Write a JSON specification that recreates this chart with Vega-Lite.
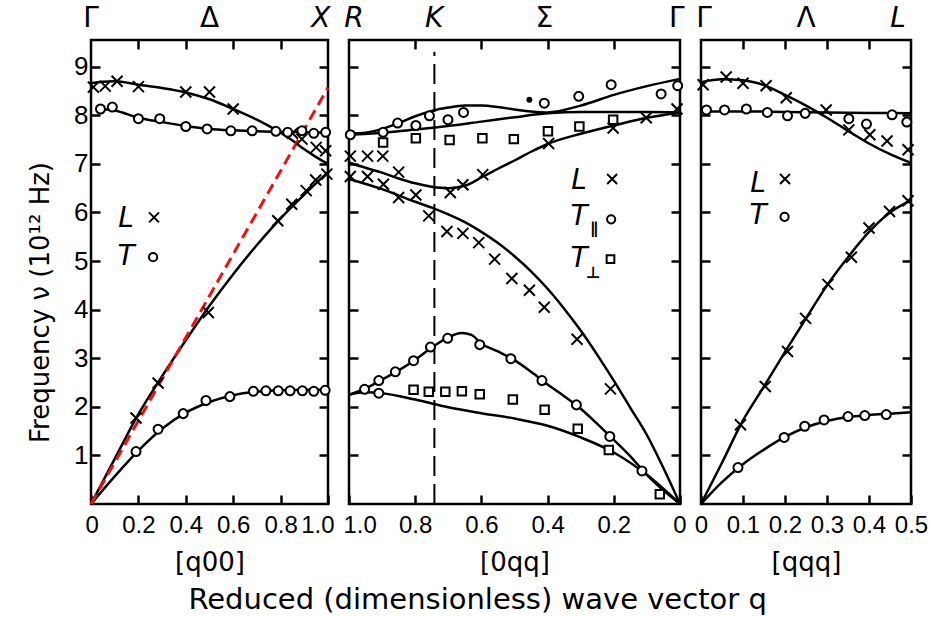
{
"$schema": "https://vega.github.io/schema/vega-lite/v6.json",
"background": "white",
"padding": {"left": 26, "top": 3, "right": 5, "bottom": 5},
"datasets": {
"p1l": [
{"c":"Lopt","q":0,"f":8.66},{"c":"Lopt","q":0.05,"f":8.69},{"c":"Lopt","q":0.1,"f":8.7},{"c":"Lopt","q":0.2,"f":8.63},{"c":"Lopt","q":0.3,"f":8.56},{"c":"Lopt","q":0.4,"f":8.47},{"c":"Lopt","q":0.5,"f":8.33},{"c":"Lopt","q":0.6,"f":8.13},{"c":"Lopt","q":0.7,"f":7.91},{"c":"Lopt","q":0.8,"f":7.64},{"c":"Lopt","q":0.85,"f":7.48},{"c":"Lopt","q":0.9,"f":7.3},{"c":"Lopt","q":0.95,"f":7.14},{"c":"Lopt","q":1.0,"f":7.0},
{"c":"Topt","q":0.04,"f":8.13},{"c":"Topt","q":0.1,"f":8.1},{"c":"Topt","q":0.2,"f":7.95},{"c":"Topt","q":0.3,"f":7.86},{"c":"Topt","q":0.4,"f":7.78},{"c":"Topt","q":0.5,"f":7.72},{"c":"Topt","q":0.6,"f":7.69},{"c":"Topt","q":0.7,"f":7.67},{"c":"Topt","q":0.8,"f":7.66},{"c":"Topt","q":0.9,"f":7.65},{"c":"Topt","q":1.0,"f":7.64},
{"c":"Lac","q":0,"f":0},{"c":"Lac","q":0.1,"f":0.93},{"c":"Lac","q":0.2,"f":1.85},{"c":"Lac","q":0.3,"f":2.63},{"c":"Lac","q":0.4,"f":3.37},{"c":"Lac","q":0.5,"f":4.08},{"c":"Lac","q":0.6,"f":4.73},{"c":"Lac","q":0.7,"f":5.33},{"c":"Lac","q":0.8,"f":5.88},{"c":"Lac","q":0.9,"f":6.37},{"c":"Lac","q":1.0,"f":6.83},
{"c":"Tac","q":0,"f":0},{"c":"Tac","q":0.1,"f":0.57},{"c":"Tac","q":0.2,"f":1.1},{"c":"Tac","q":0.3,"f":1.55},{"c":"Tac","q":0.4,"f":1.88},{"c":"Tac","q":0.5,"f":2.1},{"c":"Tac","q":0.6,"f":2.24},{"c":"Tac","q":0.7,"f":2.31},{"c":"Tac","q":0.8,"f":2.34},{"c":"Tac","q":0.9,"f":2.35},{"c":"Tac","q":1.0,"f":2.35}
],
"p1p": [
{"s":"L","q":0.01,"f":8.58},{"s":"L","q":0.06,"f":8.6},{"s":"L","q":0.11,"f":8.7},{"s":"L","q":0.2,"f":8.59},{"s":"L","q":0.4,"f":8.48},{"s":"L","q":0.5,"f":8.48},{"s":"L","q":0.6,"f":8.13},{"s":"L","q":0.85,"f":7.63},{"s":"L","q":0.89,"f":7.51},{"s":"L","q":0.95,"f":7.34},{"s":"L","q":0.99,"f":7.27},
{"s":"L","q":0.995,"f":6.79},{"s":"L","q":0.948,"f":6.67},{"s":"L","q":0.908,"f":6.45},{"s":"L","q":0.847,"f":6.17},{"s":"L","q":0.788,"f":5.83},{"s":"L","q":0.495,"f":3.94},{"s":"L","q":0.283,"f":2.49},{"s":"L","q":0.19,"f":1.77},
{"s":"T","q":0.04,"f":8.13},{"s":"T","q":0.09,"f":8.17},{"s":"T","q":0.2,"f":7.93},{"s":"T","q":0.29,"f":7.93},{"s":"T","q":0.4,"f":7.77},{"s":"T","q":0.49,"f":7.72},{"s":"T","q":0.59,"f":7.68},{"s":"T","q":0.68,"f":7.68},{"s":"T","q":0.78,"f":7.67},{"s":"T","q":0.83,"f":7.65},{"s":"T","q":0.89,"f":7.68},{"s":"T","q":0.94,"f":7.63},{"s":"T","q":0.99,"f":7.65},
{"s":"T","q":0.19,"f":1.08},{"s":"T","q":0.283,"f":1.54},{"s":"T","q":0.389,"f":1.86},{"s":"T","q":0.485,"f":2.13},{"s":"T","q":0.586,"f":2.21},{"s":"T","q":0.685,"f":2.32},{"s":"T","q":0.738,"f":2.33},{"s":"T","q":0.79,"f":2.33},{"s":"T","q":0.84,"f":2.33},{"s":"T","q":0.892,"f":2.33},{"s":"T","q":0.94,"f":2.32},{"s":"T","q":0.988,"f":2.34}
],
"p1red": [{"q":0,"f":0},{"q":1.0,"f":8.57}],
"p1greek": [{"q":0,"f":9.98,"t":"Γ"},{"q":0.5,"f":9.98,"t":"Δ"}],
"p1latin": [{"q":0.97,"f":9.98,"t":"X"}],
"p1legt": [{"q":0.148,"f":5.86,"t":"L"},{"q":0.148,"f":5.08,"t":"T"}],
"p1legm": [{"s":"L","q":0.266,"f":5.9},{"s":"T","q":0.262,"f":5.08}],
"p2l": [
{"c":"A","q":1.0,"f":7.62},{"c":"A","q":0.95,"f":7.64},{"c":"A","q":0.9,"f":7.72},{"c":"A","q":0.85,"f":7.84},{"c":"A","q":0.8,"f":7.98},{"c":"A","q":0.75,"f":8.09},{"c":"A","q":0.7,"f":8.16},{"c":"A","q":0.65,"f":8.2},{"c":"A","q":0.6,"f":8.2},{"c":"A","q":0.55,"f":8.17},{"c":"A","q":0.5,"f":8.12},{"c":"A","q":0.45,"f":8.08},{"c":"A","q":0.4,"f":8.06},{"c":"A","q":0.3,"f":8.2},{"c":"A","q":0.2,"f":8.42},{"c":"A","q":0.1,"f":8.6},{"c":"A","q":0,"f":8.75},
{"c":"B","q":1.0,"f":7.6},{"c":"B","q":0.9,"f":7.64},{"c":"B","q":0.8,"f":7.71},{"c":"B","q":0.74,"f":7.75},{"c":"B","q":0.6,"f":7.87},{"c":"B","q":0.5,"f":7.96},{"c":"B","q":0.4,"f":8.04},{"c":"B","q":0.3,"f":8.07},{"c":"B","q":0.2,"f":8.07},{"c":"B","q":0.1,"f":8.07},{"c":"B","q":0,"f":8.06},
{"c":"C","q":1.0,"f":7.03},{"c":"C","q":0.95,"f":6.92},{"c":"C","q":0.9,"f":6.82},{"c":"C","q":0.85,"f":6.7},{"c":"C","q":0.8,"f":6.6},{"c":"C","q":0.75,"f":6.53},{"c":"C","q":0.7,"f":6.5},{"c":"C","q":0.65,"f":6.55},{"c":"C","q":0.6,"f":6.72},{"c":"C","q":0.55,"f":6.9},{"c":"C","q":0.5,"f":7.07},{"c":"C","q":0.45,"f":7.25},{"c":"C","q":0.4,"f":7.41},{"c":"C","q":0.3,"f":7.62},{"c":"C","q":0.2,"f":7.79},{"c":"C","q":0.1,"f":7.95},{"c":"C","q":0,"f":8.06},
{"c":"D","q":1.0,"f":6.69},{"c":"D","q":0.9,"f":6.48},{"c":"D","q":0.8,"f":6.22},{"c":"D","q":0.75,"f":6.1},{"c":"D","q":0.7,"f":5.96},{"c":"D","q":0.65,"f":5.8},{"c":"D","q":0.6,"f":5.6},{"c":"D","q":0.55,"f":5.37},{"c":"D","q":0.5,"f":5.1},{"c":"D","q":0.45,"f":4.79},{"c":"D","q":0.4,"f":4.43},{"c":"D","q":0.35,"f":4.02},{"c":"D","q":0.3,"f":3.57},{"c":"D","q":0.25,"f":3.07},{"c":"D","q":0.2,"f":2.54},{"c":"D","q":0.15,"f":1.98},{"c":"D","q":0.1,"f":1.42},{"c":"D","q":0.05,"f":0.74},{"c":"D","q":0,"f":0},
{"c":"E","q":1.0,"f":2.25},{"c":"E","q":0.95,"f":2.38},{"c":"E","q":0.9,"f":2.56},{"c":"E","q":0.85,"f":2.75},{"c":"E","q":0.8,"f":2.97},{"c":"E","q":0.75,"f":3.22},{"c":"E","q":0.7,"f":3.43},{"c":"E","q":0.66,"f":3.52},{"c":"E","q":0.63,"f":3.48},{"c":"E","q":0.6,"f":3.3},{"c":"E","q":0.55,"f":3.14},{"c":"E","q":0.5,"f":2.96},{"c":"E","q":0.45,"f":2.72},{"c":"E","q":0.4,"f":2.46},{"c":"E","q":0.35,"f":2.22},{"c":"E","q":0.3,"f":1.96},{"c":"E","q":0.25,"f":1.65},{"c":"E","q":0.2,"f":1.32},{"c":"E","q":0.15,"f":0.98},{"c":"E","q":0.1,"f":0.6},{"c":"E","q":0.05,"f":0.28},{"c":"E","q":0,"f":0},
{"c":"F","q":1.0,"f":2.25},{"c":"F","q":0.95,"f":2.3},{"c":"F","q":0.9,"f":2.28},{"c":"F","q":0.8,"f":2.15},{"c":"F","q":0.7,"f":1.99},{"c":"F","q":0.6,"f":1.87},{"c":"F","q":0.5,"f":1.76},{"c":"F","q":0.4,"f":1.61},{"c":"F","q":0.3,"f":1.37},{"c":"F","q":0.2,"f":1.06},{"c":"F","q":0.1,"f":0.6},{"c":"F","q":0,"f":0}
],
"p2p": [
{"s":"L","q":0.996,"f":7.16},{"s":"L","q":0.944,"f":7.16},{"s":"L","q":0.898,"f":7.16},{"s":"L","q":0.996,"f":6.74},{"s":"L","q":0.944,"f":6.74},{"s":"L","q":0.896,"f":6.58},{"s":"L","q":0.85,"f":6.83},{"s":"L","q":0.85,"f":6.31},{"s":"L","q":0.798,"f":6.36},{"s":"L","q":0.759,"f":5.93},{"s":"L","q":0.694,"f":6.41},{"s":"L","q":0.656,"f":6.57},{"s":"L","q":0.596,"f":6.78},{"s":"L","q":0.397,"f":7.42},{"s":"L","q":0.202,"f":7.74},{"s":"L","q":0.102,"f":7.95},{"s":"L","q":0.009,"f":8.13},
{"s":"L","q":0.704,"f":5.61},{"s":"L","q":0.656,"f":5.57},{"s":"L","q":0.608,"f":5.38},{"s":"L","q":0.56,"f":5.04},{"s":"L","q":0.508,"f":4.64},{"s":"L","q":0.455,"f":4.4},{"s":"L","q":0.41,"f":4.05},{"s":"L","q":0.311,"f":3.39},{"s":"L","q":0.21,"f":2.37},
{"s":"T","q":0.996,"f":7.6},{"s":"T","q":0.897,"f":7.65},{"s":"T","q":0.853,"f":7.84},{"s":"T","q":0.798,"f":7.79},{"s":"T","q":0.757,"f":7.99},{"s":"T","q":0.701,"f":7.91},{"s":"T","q":0.654,"f":8.06},{"s":"T","q":0.41,"f":8.25},{"s":"T","q":0.306,"f":8.39},{"s":"T","q":0.208,"f":8.63},{"s":"T","q":0.057,"f":8.44},{"s":"T","q":0.007,"f":8.61},
{"s":"T","q":0.953,"f":2.36},{"s":"T","q":0.91,"f":2.54},{"s":"T","q":0.86,"f":2.72},{"s":"T","q":0.805,"f":2.95},{"s":"T","q":0.754,"f":3.23},{"s":"T","q":0.702,"f":3.41},{"s":"T","q":0.605,"f":3.28},{"s":"T","q":0.511,"f":2.99},{"s":"T","q":0.417,"f":2.54},{"s":"T","q":0.313,"f":2.04},{"s":"T","q":0.212,"f":1.39},{"s":"T","q":0.115,"f":0.68},{"s":"T","q":0.91,"f":2.28},
{"s":"P","q":0.897,"f":7.44},{"s":"P","q":0.798,"f":7.53},{"s":"P","q":0.696,"f":7.49},{"s":"P","q":0.597,"f":7.53},{"s":"P","q":0.502,"f":7.51},{"s":"P","q":0.399,"f":7.67},{"s":"P","q":0.304,"f":7.77},{"s":"P","q":0.202,"f":7.91},
{"s":"P","q":0.805,"f":2.35},{"s":"P","q":0.759,"f":2.31},{"s":"P","q":0.709,"f":2.31},{"s":"P","q":0.659,"f":2.32},{"s":"P","q":0.605,"f":2.26},{"s":"P","q":0.505,"f":2.15},{"s":"P","q":0.409,"f":1.94},{"s":"P","q":0.309,"f":1.55},{"s":"P","q":0.215,"f":1.11},{"s":"P","q":0.061,"f":0.2},
{"s":"D","q":0.455,"f":8.32}
],
"p2k": [{"q":0.742,"f":0,"f2":9.31}],
"p2greek": [{"q":0.41,"f":9.98,"t":"Σ"},{"q":0.01,"f":9.98,"t":"Γ"}],
"p2latin": [{"q":0.985,"f":9.98,"t":"R"},{"q":0.743,"f":9.98,"t":"K"}],
"p2legt": [{"q":0.305,"f":6.65,"t":"L"},{"q":0.305,"f":5.9,"t":"T"},{"q":0.305,"f":5.04,"t":"T"}],
"p2legsub": [{"q":0.26,"f":5.66,"t":"∥"},{"q":0.262,"f":4.76,"t":"⊥"}],
"p2legm": [{"s":"L","q":0.205,"f":6.69},{"s":"T","q":0.208,"f":5.86},{"s":"P","q":0.21,"f":5.04}],
"p3l": [
{"c":"Lup","q":0,"f":8.68},{"c":"Lup","q":0.05,"f":8.74},{"c":"Lup","q":0.1,"f":8.72},{"c":"Lup","q":0.15,"f":8.62},{"c":"Lup","q":0.2,"f":8.42},{"c":"Lup","q":0.25,"f":8.2},{"c":"Lup","q":0.3,"f":7.95},{"c":"Lup","q":0.35,"f":7.68},{"c":"Lup","q":0.4,"f":7.42},{"c":"Lup","q":0.45,"f":7.2},{"c":"Lup","q":0.5,"f":7.02},
{"c":"Tup","q":0,"f":8.08},{"c":"Tup","q":0.1,"f":8.08},{"c":"Tup","q":0.2,"f":8.07},{"c":"Tup","q":0.3,"f":8.06},{"c":"Tup","q":0.4,"f":8.05},{"c":"Tup","q":0.5,"f":8.04},
{"c":"Lac","q":0,"f":0},{"c":"Lac","q":0.05,"f":0.85},{"c":"Lac","q":0.1,"f":1.72},{"c":"Lac","q":0.15,"f":2.42},{"c":"Lac","q":0.2,"f":3.13},{"c":"Lac","q":0.25,"f":3.82},{"c":"Lac","q":0.3,"f":4.5},{"c":"Lac","q":0.35,"f":5.08},{"c":"Lac","q":0.4,"f":5.6},{"c":"Lac","q":0.45,"f":6.0},{"c":"Lac","q":0.5,"f":6.25},
{"c":"Tac","q":0,"f":0},{"c":"Tac","q":0.05,"f":0.45},{"c":"Tac","q":0.1,"f":0.82},{"c":"Tac","q":0.15,"f":1.12},{"c":"Tac","q":0.2,"f":1.38},{"c":"Tac","q":0.25,"f":1.58},{"c":"Tac","q":0.3,"f":1.71},{"c":"Tac","q":0.35,"f":1.79},{"c":"Tac","q":0.4,"f":1.83},{"c":"Tac","q":0.45,"f":1.86},{"c":"Tac","q":0.5,"f":1.89}
],
"p3p": [
{"s":"L","q":0.005,"f":8.63},{"s":"L","q":0.06,"f":8.79},{"s":"L","q":0.1,"f":8.66},{"s":"L","q":0.155,"f":8.61},{"s":"L","q":0.203,"f":8.36},{"s":"L","q":0.298,"f":8.11},{"s":"L","q":0.352,"f":7.7},{"s":"L","q":0.402,"f":7.6},{"s":"L","q":0.443,"f":7.47},{"s":"L","q":0.493,"f":7.29},
{"s":"L","q":0.094,"f":1.63},{"s":"L","q":0.153,"f":2.42},{"s":"L","q":0.206,"f":3.14},{"s":"L","q":0.249,"f":3.82},{"s":"L","q":0.302,"f":4.52},{"s":"L","q":0.358,"f":5.08},{"s":"L","q":0.4,"f":5.68},{"s":"L","q":0.449,"f":6.02},{"s":"L","q":0.493,"f":6.24},
{"s":"T","q":0.013,"f":8.11},{"s":"T","q":0.056,"f":8.11},{"s":"T","q":0.108,"f":8.13},{"s":"T","q":0.158,"f":8.06},{"s":"T","q":0.206,"f":7.99},{"s":"T","q":0.248,"f":8.04},{"s":"T","q":0.352,"f":7.93},{"s":"T","q":0.394,"f":7.82},{"s":"T","q":0.455,"f":8.01},{"s":"T","q":0.49,"f":7.86},
{"s":"T","q":0.088,"f":0.75},{"s":"T","q":0.198,"f":1.37},{"s":"T","q":0.247,"f":1.6},{"s":"T","q":0.293,"f":1.73},{"s":"T","q":0.35,"f":1.8},{"s":"T","q":0.39,"f":1.82},{"s":"T","q":0.441,"f":1.84}
],
"p3greek": [{"q":0.007,"f":9.98,"t":"Γ"},{"q":0.25,"f":9.98,"t":"Λ"}],
"p3latin": [{"q":0.469,"f":9.98,"t":"L"}],
"p3legt": [{"q":0.136,"f":6.58,"t":"L"},{"q":0.136,"f":5.93,"t":"T"}],
"p3legm": [{"s":"L","q":0.2,"f":6.69},{"s":"T","q":0.199,"f":5.91}]
},
"hconcat": [
{
"width": 237, "height": 464,
"layer": [
{"data": {"name": "p1l"}, "mark": {"type": "line", "color": "black", "strokeWidth": 2.5, "interpolate": "monotone"},
 "encoding": {
  "x": {"field": "q", "type": "quantitative", "scale": {"domain": [0, 1], "nice": false, "zero": false}, "axis": {"orient": "bottom", "values": [0, 0.2, 0.4, 0.6, 0.8, 1], "labelExpr": "datum.value === 0 ? '0' : format(datum.value, '.1f')", "title": "[q00]"}},
  "y": {"field": "f", "type": "quantitative", "scale": {"domain": [0, 9.55], "nice": false}, "axis": {"orient": "left", "values": [1,2,3,4,5,6,7,8,9], "format": "d", "labelFlush": false, "title": "Frequency ν (10¹² Hz)", "titlePadding": 20, "titleY": 262}},
  "detail": {"field": "c"}}},
{"data": {"name": "p1red"}, "mark": {"type": "line", "color": "#f01010", "strokeWidth": 3, "strokeDash": [11, 6]},
 "encoding": {"x": {"field": "q", "type": "quantitative", "axis": null}, "y": {"field": "f", "type": "quantitative", "axis": null}}},
{"data": {"name": "p1p"}, "mark": {"type": "point", "stroke": "black", "strokeWidth": 2, "opacity": 1, "size": 121},
 "encoding": {"x": {"field": "q", "type": "quantitative", "axis": null}, "y": {"field": "f", "type": "quantitative", "axis": null},
  "shape": {"field": "s", "scale": {"domain": ["L", "T", "P", "D"], "range": ["M-1,-1L1,1M-1,1L1,-1", "M0.82,0A0.82,0.82 0 1,1 -0.82,0A0.82,0.82 0 1,1 0.82,0Z", "M-0.77,-0.77H0.77V0.77H-0.77Z", "M0.36,0A0.36,0.36 0 1,1 -0.36,0A0.36,0.36 0 1,1 0.36,0Z"]}, "legend": null},
  "fill": {"field": "s", "scale": {"domain": ["L", "T", "P", "D"], "range": ["white", "white", "white", "black"]}, "legend": null}}},
{"data": {"name": "p1legt"}, "mark": {"type": "text", "font": "DejaVu Sans", "fontSize": 28, "fontStyle": "italic", "color": "black", "baseline": "middle", "align": "center"},
 "encoding": {"x": {"field": "q", "type": "quantitative", "axis": null}, "y": {"field": "f", "type": "quantitative", "axis": null}, "text": {"field": "t"}}},
{"data": {"name": "p1legm"}, "mark": {"type": "point", "stroke": "black", "strokeWidth": 2, "opacity": 1, "fill": "white", "size": 100},
 "encoding": {"x": {"field": "q", "type": "quantitative", "axis": null}, "y": {"field": "f", "type": "quantitative", "axis": null},
  "shape": {"field": "s", "scale": {"domain": ["L", "T", "P", "D"], "range": ["M-1,-1L1,1M-1,1L1,-1", "M0.82,0A0.82,0.82 0 1,1 -0.82,0A0.82,0.82 0 1,1 0.82,0Z", "M-0.77,-0.77H0.77V0.77H-0.77Z", "M0.36,0A0.36,0.36 0 1,1 -0.36,0A0.36,0.36 0 1,1 0.36,0Z"]}, "legend": null}}},
{"data": {"name": "p1latin"}, "mark": {"type": "text", "font": "DejaVu Sans", "fontSize": 28, "fontStyle": "italic", "color": "black", "baseline": "middle", "align": "center"},
 "encoding": {"x": {"field": "q", "type": "quantitative", "axis": null}, "y": {"field": "f", "type": "quantitative", "axis": null}, "text": {"field": "t"}}},
{"data": {"name": "p1greek"}, "mark": {"type": "text", "font": "DejaVu Sans", "fontSize": 28, "color": "black", "baseline": "middle", "align": "center"},
 "encoding": {"x": {"field": "q", "type": "quantitative", "axis": {"orient": "top", "values": [0.2, 0.4, 0.6, 0.8], "labels": false, "title": null}},
  "y": {"field": "f", "type": "quantitative", "axis": {"orient": "right", "values": [1,2,3,4,5,6,7,8,9], "labels": false, "title": null}}, "text": {"field": "t"}}}
],
"resolve": {"axis": {"x": "independent", "y": "independent"}}
},
{
"width": 331, "height": 464,
"layer": [
{"data": {"name": "p2k"}, "mark": {"type": "rule", "color": "black", "strokeWidth": 2, "strokeDash": [20, 8]},
 "encoding": {"x": {"field": "q", "type": "quantitative", "axis": null}, "y": {"field": "f", "type": "quantitative", "axis": null}, "y2": {"field": "f2"}}},
{"data": {"name": "p2l"}, "mark": {"type": "line", "color": "black", "strokeWidth": 2.5, "interpolate": "monotone"},
 "encoding": {
  "x": {"field": "q", "type": "quantitative", "scale": {"domain": [0, 1], "nice": false, "reverse": true}, "axis": {"orient": "bottom", "values": [0, 0.2, 0.4, 0.6, 0.8, 1], "labelExpr": "datum.value === 0 ? '0' : format(datum.value, '.1f')", "title": "[0qq]"}},
  "y": {"field": "f", "type": "quantitative", "scale": {"domain": [0, 9.55], "nice": false}, "axis": {"orient": "left", "values": [1,2,3,4,5,6,7,8,9], "labels": false, "title": null}},
  "detail": {"field": "c"}}},
{"data": {"name": "p2p"}, "mark": {"type": "point", "stroke": "black", "strokeWidth": 2, "opacity": 1, "size": 121},
 "encoding": {"x": {"field": "q", "type": "quantitative", "axis": null}, "y": {"field": "f", "type": "quantitative", "axis": null},
  "shape": {"field": "s", "scale": {"domain": ["L", "T", "P", "D"], "range": ["M-1,-1L1,1M-1,1L1,-1", "M0.82,0A0.82,0.82 0 1,1 -0.82,0A0.82,0.82 0 1,1 0.82,0Z", "M-0.77,-0.77H0.77V0.77H-0.77Z", "M0.36,0A0.36,0.36 0 1,1 -0.36,0A0.36,0.36 0 1,1 0.36,0Z"]}, "legend": null},
  "fill": {"field": "s", "scale": {"domain": ["L", "T", "P", "D"], "range": ["white", "white", "white", "black"]}, "legend": null}}},
{"data": {"name": "p2legt"}, "mark": {"type": "text", "font": "DejaVu Sans", "fontSize": 28, "fontStyle": "italic", "color": "black", "baseline": "middle", "align": "center"},
 "encoding": {"x": {"field": "q", "type": "quantitative", "axis": null}, "y": {"field": "f", "type": "quantitative", "axis": null}, "text": {"field": "t"}}},
{"data": {"name": "p2legsub"}, "mark": {"type": "text", "font": "DejaVu Sans", "fontSize": 16, "fontWeight": "bold", "color": "black", "baseline": "middle", "align": "center"},
 "encoding": {"x": {"field": "q", "type": "quantitative", "axis": null}, "y": {"field": "f", "type": "quantitative", "axis": null}, "text": {"field": "t"}}},
{"data": {"name": "p2legm"}, "mark": {"type": "point", "stroke": "black", "strokeWidth": 2, "opacity": 1, "fill": "white", "size": 100},
 "encoding": {"x": {"field": "q", "type": "quantitative", "axis": null}, "y": {"field": "f", "type": "quantitative", "axis": null},
  "shape": {"field": "s", "scale": {"domain": ["L", "T", "P", "D"], "range": ["M-1,-1L1,1M-1,1L1,-1", "M0.82,0A0.82,0.82 0 1,1 -0.82,0A0.82,0.82 0 1,1 0.82,0Z", "M-0.77,-0.77H0.77V0.77H-0.77Z", "M0.36,0A0.36,0.36 0 1,1 -0.36,0A0.36,0.36 0 1,1 0.36,0Z"]}, "legend": null}}},
{"data": {"name": "p2latin"}, "mark": {"type": "text", "font": "DejaVu Sans", "fontSize": 28, "fontStyle": "italic", "color": "black", "baseline": "middle", "align": "center"},
 "encoding": {"x": {"field": "q", "type": "quantitative", "axis": null}, "y": {"field": "f", "type": "quantitative", "axis": null}, "text": {"field": "t"}}},
{"data": {"name": "p2greek"}, "mark": {"type": "text", "font": "DejaVu Sans", "fontSize": 28, "color": "black", "baseline": "middle", "align": "center"},
 "encoding": {"x": {"field": "q", "type": "quantitative", "axis": {"orient": "top", "values": [0.2, 0.4, 0.6, 0.8], "labels": false, "title": null}},
  "y": {"field": "f", "type": "quantitative", "axis": {"orient": "right", "values": [1,2,3,4,5,6,7,8,9], "labels": false, "title": null}}, "text": {"field": "t"}}}
],
"resolve": {"axis": {"x": "independent", "y": "independent"}}
},
{
"width": 210, "height": 464,
"layer": [
{"data": {"name": "p3l"}, "mark": {"type": "line", "color": "black", "strokeWidth": 2.5, "interpolate": "monotone"},
 "encoding": {
  "x": {"field": "q", "type": "quantitative", "scale": {"domain": [0, 0.5], "nice": false}, "axis": {"orient": "bottom", "values": [0, 0.1, 0.2, 0.3, 0.4, 0.5], "labelFlush": false, "labelExpr": "datum.value === 0 ? '0' : format(datum.value, '.1f')", "title": "[qqq]"}},
  "y": {"field": "f", "type": "quantitative", "scale": {"domain": [0, 9.55], "nice": false}, "axis": {"orient": "left", "values": [1,2,3,4,5,6,7,8,9], "labels": false, "title": null}},
  "detail": {"field": "c"}}},
{"data": {"name": "p3p"}, "mark": {"type": "point", "stroke": "black", "strokeWidth": 2, "opacity": 1, "size": 121},
 "encoding": {"x": {"field": "q", "type": "quantitative", "axis": null}, "y": {"field": "f", "type": "quantitative", "axis": null},
  "shape": {"field": "s", "scale": {"domain": ["L", "T", "P", "D"], "range": ["M-1,-1L1,1M-1,1L1,-1", "M0.82,0A0.82,0.82 0 1,1 -0.82,0A0.82,0.82 0 1,1 0.82,0Z", "M-0.77,-0.77H0.77V0.77H-0.77Z", "M0.36,0A0.36,0.36 0 1,1 -0.36,0A0.36,0.36 0 1,1 0.36,0Z"]}, "legend": null},
  "fill": {"field": "s", "scale": {"domain": ["L", "T", "P", "D"], "range": ["white", "white", "white", "black"]}, "legend": null}}},
{"data": {"name": "p3legt"}, "mark": {"type": "text", "font": "DejaVu Sans", "fontSize": 28, "fontStyle": "italic", "color": "black", "baseline": "middle", "align": "center"},
 "encoding": {"x": {"field": "q", "type": "quantitative", "axis": null}, "y": {"field": "f", "type": "quantitative", "axis": null}, "text": {"field": "t"}}},
{"data": {"name": "p3legm"}, "mark": {"type": "point", "stroke": "black", "strokeWidth": 2, "opacity": 1, "fill": "white", "size": 100},
 "encoding": {"x": {"field": "q", "type": "quantitative", "axis": null}, "y": {"field": "f", "type": "quantitative", "axis": null},
  "shape": {"field": "s", "scale": {"domain": ["L", "T", "P", "D"], "range": ["M-1,-1L1,1M-1,1L1,-1", "M0.82,0A0.82,0.82 0 1,1 -0.82,0A0.82,0.82 0 1,1 0.82,0Z", "M-0.77,-0.77H0.77V0.77H-0.77Z", "M0.36,0A0.36,0.36 0 1,1 -0.36,0A0.36,0.36 0 1,1 0.36,0Z"]}, "legend": null}}},
{"data": {"name": "p3latin"}, "mark": {"type": "text", "font": "DejaVu Sans", "fontSize": 28, "fontStyle": "italic", "color": "black", "baseline": "middle", "align": "center"},
 "encoding": {"x": {"field": "q", "type": "quantitative", "axis": null}, "y": {"field": "f", "type": "quantitative", "axis": null}, "text": {"field": "t"}}},
{"data": {"name": "p3greek"}, "mark": {"type": "text", "font": "DejaVu Sans", "fontSize": 28, "color": "black", "baseline": "middle", "align": "center"},
 "encoding": {"x": {"field": "q", "type": "quantitative", "axis": {"orient": "top", "values": [0.1, 0.2, 0.3, 0.4], "labels": false, "title": null}},
  "y": {"field": "f", "type": "quantitative", "axis": {"orient": "right", "values": [1,2,3,4,5,6,7,8,9], "labels": false, "title": null}}, "text": {"field": "t"}}}
],
"resolve": {"axis": {"x": "independent", "y": "independent"}}
}
],
"spacing": 21,
"bounds": "flush",
"title": {"text": "Reduced (dimensionless) wave vector   q", "orient": "bottom", "anchor": "middle", "font": "DejaVu Sans", "fontSize": 29, "fontWeight": "normal", "color": "black", "offset": 10},
"config": {
 "view": {"stroke": "black", "strokeWidth": 2.5},
 "axis": {"domain": false, "grid": false, "tickColor": "black", "tickWidth": 2.5, "tickSize": -9, "labelFont": "Liberation Sans", "labelFontSize": 26, "labelColor": "black", "labelPadding": 12, "labelFlush": false, "labelOverlap": false, "titleFont": "DejaVu Sans", "titleFontSize": 26, "titleFontWeight": "normal", "titleColor": "black", "titlePadding": 8},
 "axisX": {"labelPadding": 18, "labelFontSize": 24, "titlePadding": 12, "labelFlush": true, "labelFlushOffset": 6}
}
}
